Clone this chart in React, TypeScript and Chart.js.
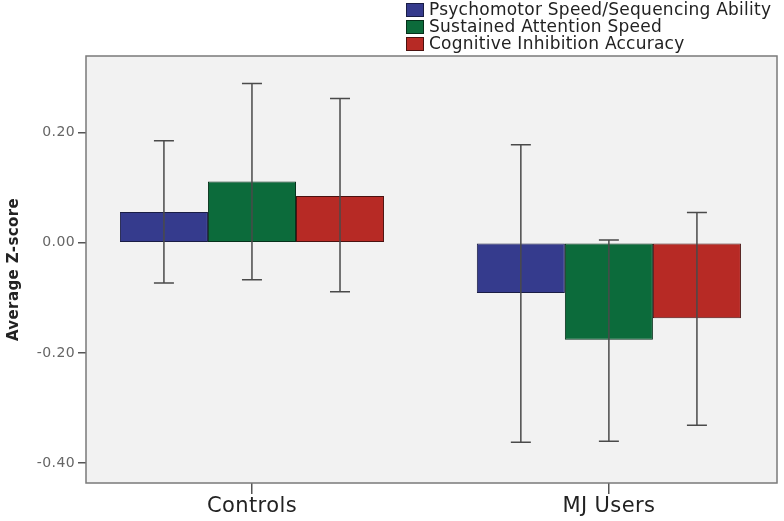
import React, { useEffect, useRef } from 'react';
import { Chart, registerables } from 'chart.js';

Chart.register(...registerables);

// groups along the x axis
const categories = ['Controls', 'MJ Users'];
const categoryPos = [0, 1];

// mean z-scores per measure
const psychomotor = [0.056, -0.091];
const sustained = [0.111, -0.176];
const cognitive = [0.085, -0.137];

// error bar ends (lower / upper)
const psychomotorLow = [-0.073, -0.362];
const psychomotorHigh = [0.185, 0.178];
const sustainedLow = [-0.067, -0.36];
const sustainedHigh = [0.289, 0.005];
const cognitiveLow = [-0.089, -0.331];
const cognitiveHigh = [0.262, 0.055];

const yTicks = [-0.4, -0.2, 0, 0.2];

const seriesLabels = [
  'Psychomotor Speed/Sequencing Ability',
  'Sustained Attention Speed',
  'Cognitive Inhibition Accuracy',
];
const seriesColors = ['#353b8d', '#0c6b3b', '#b72a25'];
const seriesBorders = ['#1a1d45', '#05301a', '#4a1210'];

const FONT = '"DejaVu Sans", "Open Sans", sans-serif';

// slightly wider lettering like the original export
const spacing = {
  id: 'spacing',
  beforeDraw(chart: any) {
    chart.ctx.letterSpacing = '0.4px';
  },
};

const plotBackground = {
  id: 'plotBackground',
  beforeDatasetsDraw(chart: any) {
    const { ctx, chartArea: a } = chart;
    ctx.save();
    ctx.fillStyle = '#f2f2f2';
    ctx.fillRect(a.left, a.top, a.right - a.left, a.bottom - a.top);
    ctx.restore();
  },
};

const errorBars = {
  id: 'errorBars',
  afterDatasetsDraw(chart: any) {
    const { ctx } = chart;
    const yScale = chart.scales.y;
    ctx.save();
    ctx.strokeStyle = '#4a4a4a';
    ctx.lineWidth = 1.5;
    chart.data.datasets.forEach((ds: any, i: number) => {
      const meta = chart.getDatasetMeta(i);
      meta.data.forEach((bar: any, j: number) => {
        const x = bar.x;
        const yLo = yScale.getPixelForValue(ds.errLow[j]);
        const yHi = yScale.getPixelForValue(ds.errHigh[j]);
        ctx.beginPath();
        ctx.moveTo(x, yLo);
        ctx.lineTo(x, yHi);
        ctx.moveTo(x - 10, yLo);
        ctx.lineTo(x + 10, yLo);
        ctx.moveTo(x - 10, yHi);
        ctx.lineTo(x + 10, yHi);
        ctx.stroke();
      });
    });
    // plot frame
    const a = chart.chartArea;
    ctx.strokeStyle = '#7a7a7a';
    ctx.lineWidth = 1.5;
    ctx.strokeRect(a.left, a.top, a.right - a.left, a.bottom - a.top);
    ctx.restore();
  },
};

const boxLegend = {
  id: 'boxLegend',
  afterDraw(chart: any) {
    const { ctx } = chart;
    ctx.save();
    ctx.font = `17px ${FONT}`;
    ctx.letterSpacing = '0.25px';
    ctx.textBaseline = 'middle';
    ctx.textAlign = 'left';
    chart.data.datasets.forEach((ds: any, i: number) => {
      const y = 10 + i * 17;
      ctx.fillStyle = ds.backgroundColor;
      ctx.fillRect(406, y - 7, 18, 14);
      ctx.strokeStyle = ds.borderColor;
      ctx.lineWidth = 1;
      ctx.strokeRect(406.5, y - 6.5, 17, 13);
      ctx.fillStyle = '#222';
      ctx.fillText(ds.label, 429, y + 1);
    });
    ctx.restore();
  },
};

const App: React.FC = () => {
  const canvasRef = useRef<HTMLCanvasElement>(null);
  const chartRef = useRef<Chart | null>(null);

  useEffect(() => {
    if (!canvasRef.current) return;
    if (chartRef.current) chartRef.current.destroy();
    const ctx = canvasRef.current.getContext('2d');
    if (!ctx) return;

    const means = [psychomotor, sustained, cognitive];
    const lows = [psychomotorLow, sustainedLow, cognitiveLow];
    const highs = [psychomotorHigh, sustainedHigh, cognitiveHigh];

    chartRef.current = new Chart(ctx, {
      type: 'bar',
      data: {
        datasets: means.map((vals, i) => ({
          label: seriesLabels[i],
          data: vals.map((v, j) => ({ x: categoryPos[j], y: v })),
          backgroundColor: seriesColors[i],
          borderColor: seriesBorders[i],
          borderWidth: 1,
          borderSkipped: false,
          categoryPercentage: 0.74,
          barPercentage: 1,
          errLow: lows[i],
          errHigh: highs[i],
        })) as any,
      },
      plugins: [spacing, plotBackground, errorBars, boxLegend],
      options: {
        animation: false,
        responsive: true,
        maintainAspectRatio: false,
        layout: { padding: { top: 56, right: 7, left: 0, bottom: 0 } },
        scales: {
          x: {
            type: 'linear',
            offset: false,
            min: -0.465,
            max: 1.471,
            afterBuildTicks: (axis: any) => {
              axis.ticks = categoryPos.map((v) => ({ value: v }));
            },
            afterFit: (axis: any) => {
              axis.height = 38;
            },
            ticks: {
              callback: (v: any) => categories[categoryPos.indexOf(v)] ?? '',
              color: '#222',
              font: { family: FONT, size: 21 },
              padding: 0,
              maxRotation: 0,
              autoSkip: false,
            },
            grid: {
              offset: false,
              drawOnChartArea: false,
              drawTicks: true,
              tickLength: 11,
              tickColor: '#555',
              lineWidth: 1.5,
            },
            border: { display: false },
          },
          y: {
            min: -0.436,
            max: 0.339,
            afterBuildTicks: (axis: any) => {
              axis.ticks = yTicks.map((v) => ({ value: v }));
            },
            afterFit: (axis: any) => {
              axis.width = 86;
            },
            ticks: {
              callback: (v: any) => Number(v).toFixed(2),
              color: '#666',
              font: { family: FONT, size: 14 },
              padding: 3,
            },
            grid: {
              drawOnChartArea: false,
              drawTicks: true,
              tickLength: 8,
              tickColor: '#555',
              lineWidth: 1.5,
            },
            border: { display: false },
            title: {
              display: true,
              text: 'Average Z-score',
              color: '#222',
              font: { family: FONT, size: 15, weight: 'bold' },
              padding: { top: 5, bottom: 0 },
            },
          },
        },
        plugins: {
          legend: { display: false },
          tooltip: { enabled: false },
        },
      },
    });

    return () => {
      if (chartRef.current) {
        chartRef.current.destroy();
        chartRef.current = null;
      }
    };
  }, []);

  return (
    <div style={{ position: 'fixed', left: 0, top: 0, width: 784, height: 521, background: '#fff' }}>
      <canvas ref={canvasRef} />
    </div>
  );
};

export default App;
